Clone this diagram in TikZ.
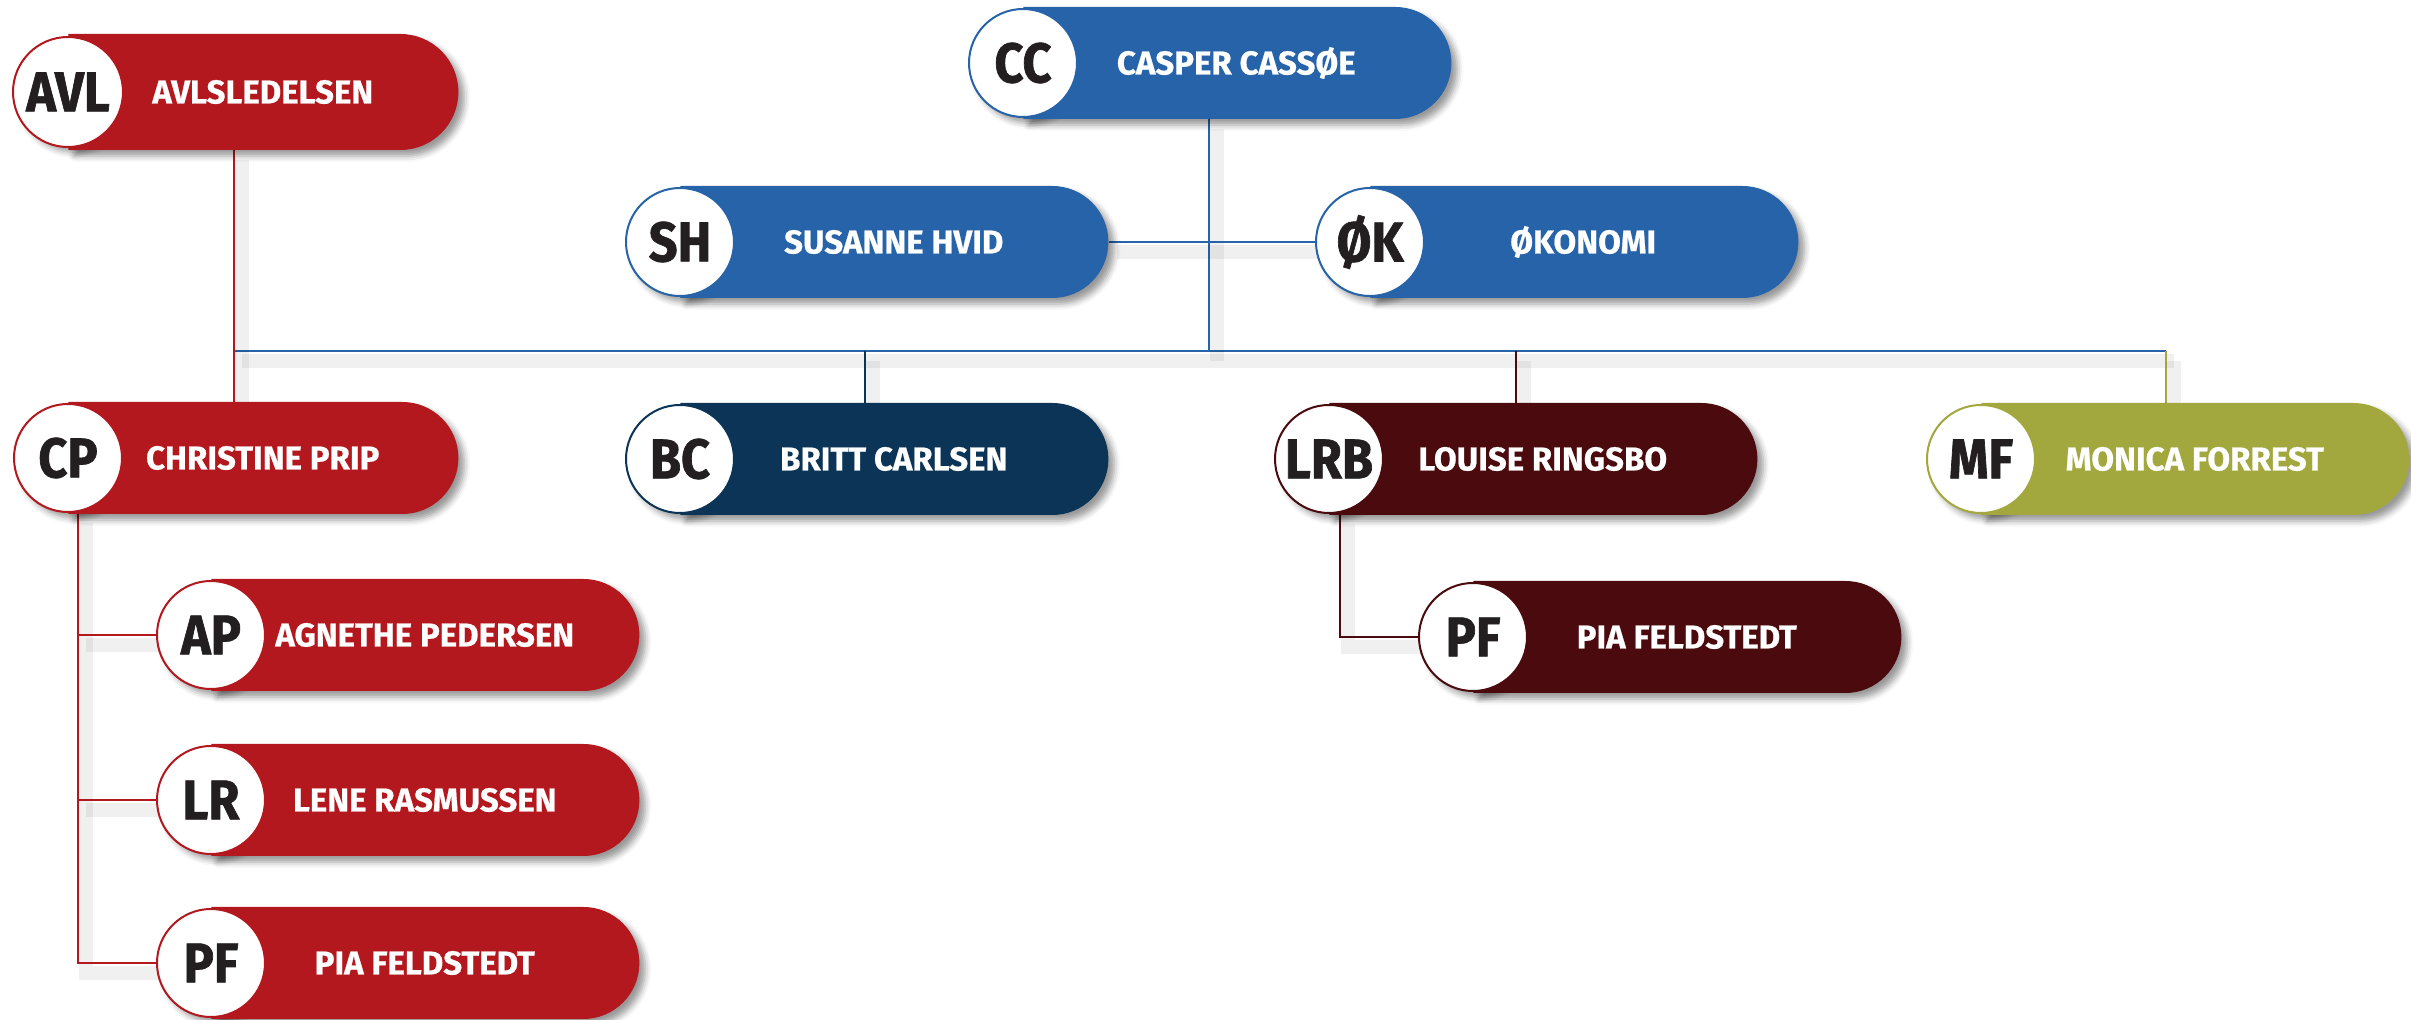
\documentclass[tikz,border=0pt]{standalone}
\usepackage{fontspec}
\setmainfont{Fira Sans}
\newfontfamily\namefont{Fira Sans}[FakeBold=0.6]
\newfontfamily\inifont{Fira Sans}[FakeStretch=0.9, FakeBold=1.2]
\usetikzlibrary{shapes.misc,shadows.blur,backgrounds}
\definecolor{cred}{HTML}{B2181E}
\definecolor{cblue}{HTML}{2763A8}
\definecolor{cnavy}{HTML}{0B3457}
\definecolor{cmaroon}{HTML}{4B0A0D}
\definecolor{colive}{HTML}{A2A83E}
\definecolor{ink}{HTML}{231F20}
\tikzset{
  myshadow/.style={blur shadow={shadow xshift=3pt, shadow yshift=-3pt, shadow blur radius=3pt, shadow opacity=40}},
  pill/.style={rounded rectangle, rounded rectangle left arc=none, anchor=west,
    minimum height=56pt, minimum width=214pt, inner sep=0pt, fill=#1, text=white,
    font=\namefont\bfseries\fontsize{16.5}{16.5}\selectfont, myshadow},
  ini/.style={circle, draw=#1, line width=1pt, fill=white, minimum size=54pt, inner sep=0pt,
    text=ink, font=\inifont\bfseries\fontsize{28}{28}\selectfont},
  conn/.style={draw=#1, line width=1.25pt,
    preaction={draw=black, draw opacity=0.06, line width=7pt, transform canvas={xshift=4pt, yshift=-5pt}}},
}
\begin{document}
\begin{tikzpicture}[x=0.5pt, y=-0.5pt]
\useasboundingbox (0,0) rectangle (2411,1020);

% junction coordinates
\coordinate (busL) at (234,351);
\coordinate (busR) at (2166,351);
\coordinate (ccJ) at (1209,351);
\coordinate (bcJ) at (865,351);
\coordinate (lrbJ) at (1516,351);
\coordinate (cpT) at (78,964);
\coordinate (lrbT) at (1340,637);

% ---- boxes: circle shadows first
\foreach \p in {(68,92),(1023,63),(680,242),(1370,242),(68,458),(680,459),(1329,459),(1981,459),(211,635),(211,800),(211,963),(1473,637)}
  \path[myshadow] \p circle (27pt);

% ---- pills
\node[pill=cred, minimum width=195pt, minimum height=58pt] (avl) at (68,92) {AVLSLEDELSEN};
\node[pill=cblue] (cc) at (1023,63) {CASPER CASSØE};
\node[pill=cblue] (sh) at (680,242) {SUSANNE HVID};
\node[pill=cblue] (ok) at (1370,242) {ØKONOMI};
\node[pill=cred, minimum width=195pt] (cp) at (68,458) {CHRISTINE PRIP};
\node[pill=cnavy] (bc) at (680,459) {BRITT CARLSEN};
\node[pill=cmaroon] (lrb) at (1329,459) {LOUISE RINGSBO};
\node[pill=colive] (mf) at (1981,459) {MONICA FORREST};
\node[pill=cred] (ap) at (211,635) {AGNETHE PEDERSEN};
\node[pill=cred] (lr) at (211,800) {LENE RASMUSSEN};
\node[pill=cred] (pfa) at (211,963) {PIA FELDSTEDT};
\node[pill=cmaroon] (pfb) at (1473,637) {PIA FELDSTEDT};

% ---- circles with initials
\node[ini=cred, minimum size=55pt] (avlI) at (68,92) {AVL};
\node[ini=cblue] (ccI) at (1023,63) {CC};
\node[ini=cblue] (shI) at (680,242) {SH};
\node[ini=cblue] (okI) at (1370,242) {ØK};
\node[ini=cred] (cpI) at (68,458) {CP};
\node[ini=cnavy] (bcI) at (680,459) {BC};
\node[ini=cmaroon] (lrbI) at (1329,459) {LRB};
\node[ini=colive] (mfI) at (1981,459) {MF};
\node[ini=cred] (apI) at (211,635) {AP};
\node[ini=cred] (lrI) at (211,800) {LR};
\node[ini=cred] (pfaI) at (211,963) {PF};
\node[ini=cmaroon] (pfbI) at (1473,637) {PF};

% ---- connectors (behind boxes)
\begin{scope}[on background layer]
  \draw[conn=cblue] (busL) -- (busR);
  \draw[conn=cblue] (cc.south -| ccJ) -- (ccJ);
  \draw[conn=cblue] (sh.east) -- (okI.west);
  \draw[conn=cred] (avl.south -| busL) -- (cp.north -| busL);
  \draw[conn=cnavy] (bcJ) -- (bc.north -| bcJ);
  \draw[conn=cmaroon] (lrbJ) -- (lrb.north -| lrbJ);
  \draw[conn=colive] (busR) -- (mf.north -| busR);
  \draw[conn=cred] (cpI.south -| cpT) |- (pfaI.west);
  \draw[conn=cred] (apI.west -| cpT) -- (apI.west);
  \draw[conn=cred] (lrI.west -| cpT) -- (lrI.west);
  \draw[conn=cmaroon] (lrbI.south -| lrbT) |- (pfbI.west);
\end{scope}
\end{tikzpicture}
\end{document}
